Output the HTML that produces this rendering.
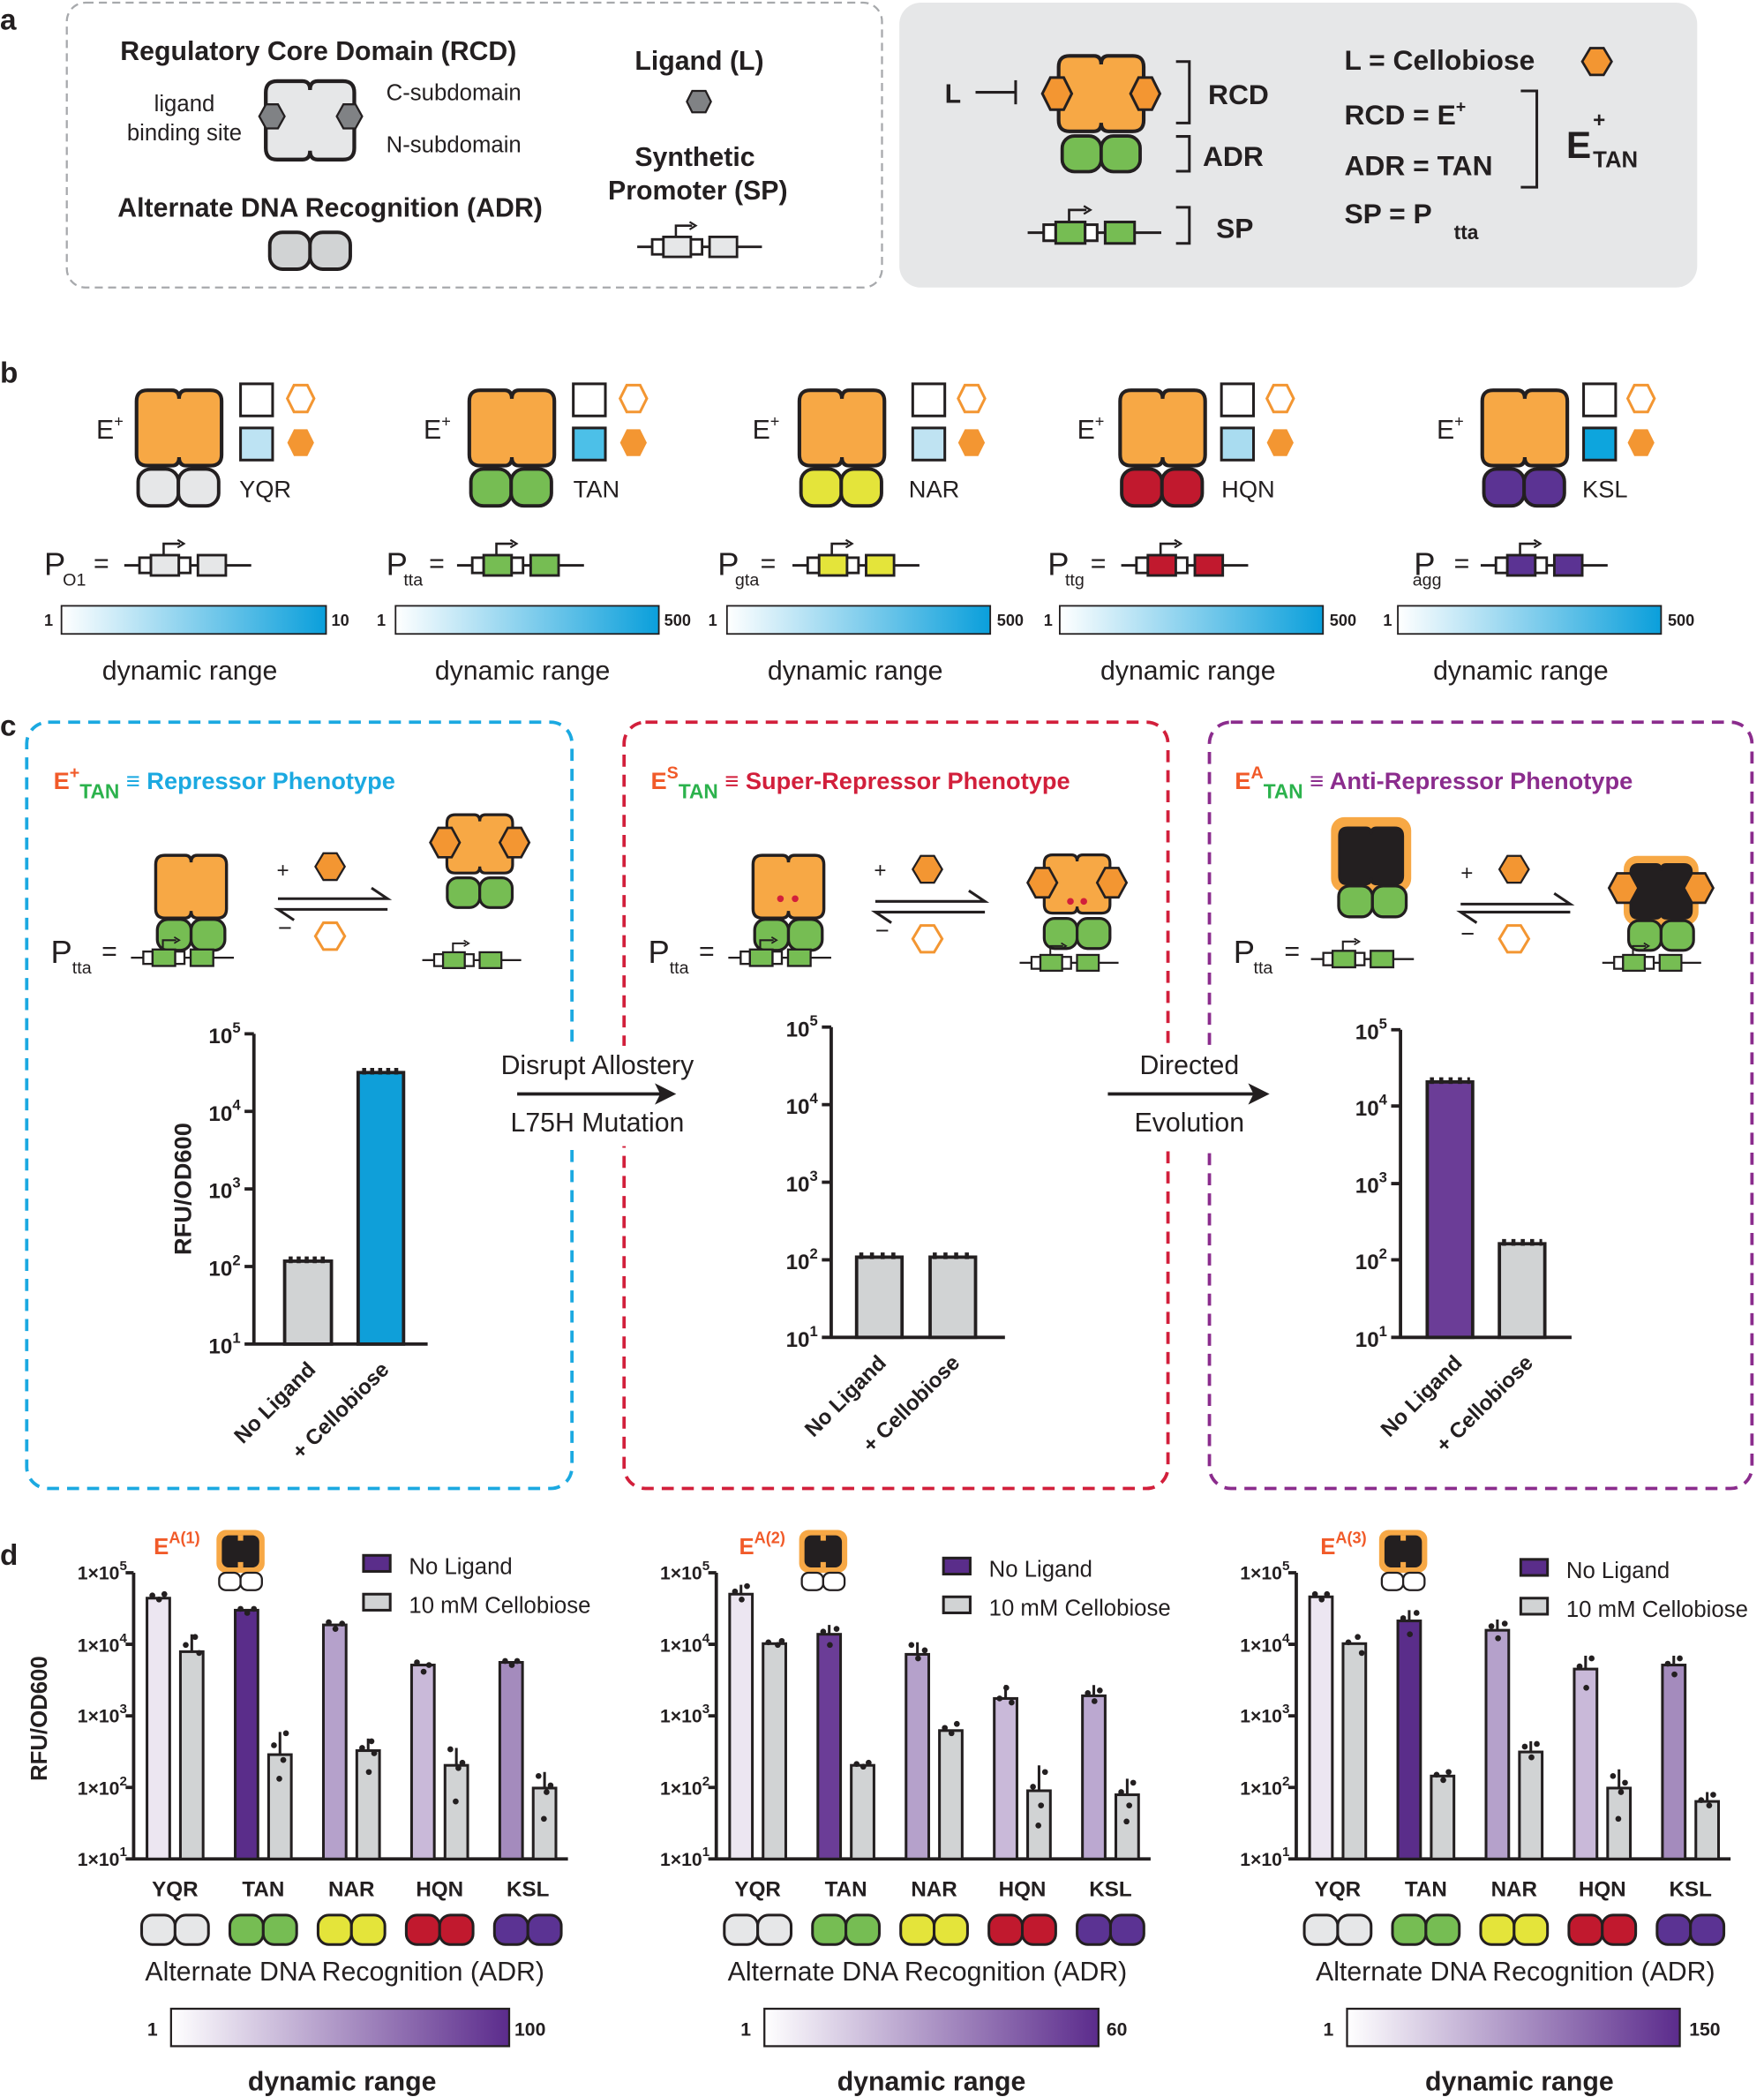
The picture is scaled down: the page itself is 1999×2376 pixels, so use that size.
<!DOCTYPE html>
<html><head><meta charset="utf-8"><style>html,body{margin:0;padding:0;background:#fff}svg{display:block}text{font-family:"Liberation Sans",Arial,sans-serif}</style></head><body>
<svg width="1999" height="2376" viewBox="0 0 1320 1568" preserveAspectRatio="none" xmlns="http://www.w3.org/2000/svg">
<defs>
<symbol id="rcd" viewBox="-2 -2 74 66" overflow="visible"><path d="M9,0 H29 Q35,0 35,7 Q35,0 41,0 H61 Q70,0 70,9 V53 Q70,62 61,62 H41 Q35,62 35,55 Q35,62 29,62 H9 Q0,62 0,53 V9 Q0,0 9,0 Z" stroke="#231f20" stroke-width="3"/></symbol>
<symbol id="adr" viewBox="-2 -2 74 36" overflow="visible"><rect x="0" y="0" width="35" height="32" rx="11" stroke="#231f20" stroke-width="3"/><rect x="35" y="0" width="35" height="32" rx="11" stroke="#231f20" stroke-width="3"/></symbol>
<symbol id="pro" viewBox="0 0 100 30" overflow="visible"><line x1="0" y1="21" x2="100" y2="21" stroke="#231f20" stroke-width="2"/><rect x="12" y="15" width="9" height="12" fill="#fff" stroke="#231f20" stroke-width="2"/><rect x="21" y="13" width="22" height="16" stroke="#231f20" stroke-width="2"/><rect x="43" y="15" width="9" height="12" fill="#fff" stroke="#231f20" stroke-width="2"/><rect x="58" y="13" width="22" height="16" stroke="#231f20" stroke-width="2"/><path d="M31,13 V4 H44" fill="none" stroke="#231f20" stroke-width="1.8"/><path d="M42,1 L47,4 L42,7" fill="none" stroke="#231f20" stroke-width="1.5"/></symbol>
<linearGradient id="gb" x1="0" x2="1"><stop offset="0" stop-color="#fff"/><stop offset="1" stop-color="#0a9fdb"/></linearGradient>
<linearGradient id="gp" x1="0" x2="1"><stop offset="0" stop-color="#fff"/><stop offset="1" stop-color="#5b2b8c"/></linearGradient>
</defs>
<g font-size="20" fill="#231f20">
<!-- panel a -->
<text x="0" y="22" font-weight="bold" font-size="22">a</text>
<rect x="50" y="2" width="610" height="213" rx="14" fill="none" stroke="#a7a9ac" stroke-width="1.5" stroke-dasharray="6,4"/>
<text x="90" y="45" font-weight="bold">Regulatory Core Domain (RCD)</text>
<text x="138" y="83" font-size="17" text-anchor="middle">ligand</text>
<text x="138" y="105" font-size="17" text-anchor="middle">binding site</text>
<use href="#rcd" x="197" y="58" width="70" height="64" fill="#e6e7e8"/>
<polygon points="194,87 199,78 208,78 213,87 208,96 199,96" fill="#808285" stroke="#231f20" stroke-width="1.5"/>
<polygon points="252,87 257,78 266,78 271,87 266,96 257,96" fill="#808285" stroke="#231f20" stroke-width="1.5"/>
<text x="289" y="75" font-size="17">C-subdomain</text>
<text x="289" y="114" font-size="17">N-subdomain</text>
<text x="88" y="162" font-weight="bold">Alternate DNA Recognition (ADR)</text>
<use href="#adr" x="198" y="172" width="68" height="31" fill="#d1d3d4"/>
<text x="475" y="52" font-weight="bold">Ligand (L)</text>
<polygon points="514,76 518,68 528,68 532,76 528,84 518,84" fill="#808285" stroke="#231f20" stroke-width="1.5"/>
<text x="475" y="124" font-weight="bold">Synthetic</text>
<text x="455" y="149" font-weight="bold">Promoter (SP)</text>
<use href="#pro" x="475" y="165" width="97" height="28" fill="#e6e7e8"/>

<rect x="673" y="2" width="597" height="213" rx="16" fill="#e6e7e8"/>
<text x="707" y="77" font-weight="bold">L</text>
<line x1="730" y1="69" x2="760" y2="69" stroke="#231f20" stroke-width="2"/><line x1="760" y1="60" x2="760" y2="78" stroke="#231f20" stroke-width="2"/>
<use href="#rcd" x="790" y="40" width="68" height="60" fill="#f7a845"/>
<polygon points="780,70 786,58 796,58 802,70 796,82 786,82" fill="#f39632" stroke="#231f20" stroke-width="2"/>
<polygon points="846,70 852,58 862,58 868,70 862,82 852,82" fill="#f39632" stroke="#231f20" stroke-width="2"/>
<use href="#adr" x="790" y="100" width="68" height="30" fill="#76bd53"/>
<path d="M880,46 H890 V92 H880 M880,102 H890 V128 H880" fill="none" stroke="#231f20" stroke-width="2"/>
<text x="904" y="78" font-weight="bold" font-size="21">RCD</text>
<text x="900" y="124" font-weight="bold" font-size="21">ADR</text>
<use href="#pro" x="768" y="153" width="102" height="30" fill="#76bd53"/>
<path d="M880,155 H890 V182 H880" fill="none" stroke="#231f20" stroke-width="2"/>
<text x="910" y="178" font-weight="bold" font-size="21">SP</text>
<text x="1006" y="52" font-weight="bold" font-size="21">L = Cellobiose</text>
<polygon points="1184,46 1190,36 1200,36 1206,46 1200,56 1190,56" fill="#f39632" stroke="#231f20" stroke-width="1.8"/>
<text x="1006" y="93" font-weight="bold" font-size="21">RCD = E<tspan font-size="13" dy="-9">+</tspan></text>
<text x="1006" y="131" font-weight="bold" font-size="21">ADR = TAN</text>
<text x="1006" y="167" font-weight="bold" font-size="21">SP =  P</text>
<text x="1088" y="179" font-weight="bold" font-size="15">tta</text>
<path d="M1138,68 H1150 V140 H1138" fill="none" stroke="#231f20" stroke-width="2"/>
<text x="1172" y="118" font-weight="bold" font-size="28">E</text>
<text x="1192" y="95" font-weight="bold" font-size="16">+</text>
<text x="1192" y="125" font-weight="bold" font-size="17">TAN</text>

<!-- panel b -->
<text x="0" y="286" font-weight="bold" font-size="22">b</text>
<g>
<text x="72" y="328">E<tspan font-size="12" dy="-9">+</tspan></text>
<use href="#rcd" x="100" y="290" width="68" height="60" fill="#f7a845"/>
<use href="#adr" x="100" y="349" width="67" height="31" fill="#e6e7e8"/>
<rect x="180" y="287" width="24" height="24" fill="#fff" stroke="#231f20" stroke-width="2"/>
<rect x="180" y="320" width="24" height="24" fill="#bde3f3" stroke="#231f20" stroke-width="2"/>
<polygon points="215,298 220,288 230,288 235,298 230,308 220,308" fill="#fff" stroke="#f39632" stroke-width="2"/>
<polygon points="215,331 220,321 230,321 235,331 230,341 220,341" fill="#f39632"/>
<text x="179" y="372" font-size="18">YQR</text>
<text x="33" y="430" font-size="24">P</text><text x="47" y="438" font-size="13">O1</text><text x="70" y="428">=</text>
<use href="#pro" x="93" y="402" width="95" height="30" fill="#e6e7e8"/>
<rect x="46" y="453" width="198" height="21" fill="url(#gb)" stroke="#231f20" stroke-width="1.2"/>
<text x="33" y="468" font-size="12" font-weight="bold">1</text><text x="248" y="468" font-size="12" font-weight="bold">10</text>
<text x="142" y="508" text-anchor="middle">dynamic range</text>
</g>
<g transform="translate(249,0)">
<text x="68" y="328">E<tspan font-size="12" dy="-9">+</tspan></text>
<use href="#rcd" x="100" y="290" width="68" height="60" fill="#f7a845"/>
<use href="#adr" x="100" y="349" width="67" height="31" fill="#76bd53"/>
<rect x="180" y="287" width="24" height="24" fill="#fff" stroke="#231f20" stroke-width="2"/>
<rect x="180" y="320" width="24" height="24" fill="#4cc0e8" stroke="#231f20" stroke-width="2"/>
<polygon points="215,298 220,288 230,288 235,298 230,308 220,308" fill="#fff" stroke="#f39632" stroke-width="2"/>
<polygon points="215,331 220,321 230,321 235,331 230,341 220,341" fill="#f39632"/>
<text x="180" y="372" font-size="18">TAN</text>
<text x="40" y="430" font-size="24">P</text><text x="53" y="438" font-size="13">tta</text><text x="72" y="428">=</text>
<use href="#pro" x="93" y="402" width="95" height="30" fill="#76bd53"/>
<rect x="47" y="453" width="197" height="21" fill="url(#gb)" stroke="#231f20" stroke-width="1.2"/>
<text x="33" y="468" font-size="12" font-weight="bold">1</text><text x="248" y="468" font-size="12" font-weight="bold">500</text>
<text x="142" y="508" text-anchor="middle">dynamic range</text>
</g>
<g transform="translate(497,0)">
<text x="66" y="328">E<tspan font-size="12" dy="-9">+</tspan></text>
<use href="#rcd" x="99" y="290" width="68" height="60" fill="#f7a845"/>
<use href="#adr" x="99" y="349" width="67" height="31" fill="#e4e43a"/>
<rect x="186" y="287" width="24" height="24" fill="#fff" stroke="#231f20" stroke-width="2"/>
<rect x="186" y="320" width="24" height="24" fill="#bfe3f2" stroke="#231f20" stroke-width="2"/>
<polygon points="220,298 225,288 235,288 240,298 235,308 225,308" fill="#fff" stroke="#f39632" stroke-width="2"/>
<polygon points="220,331 225,321 235,321 240,331 235,341 225,341" fill="#f39632"/>
<text x="183" y="372" font-size="18">NAR</text>
<text x="40" y="430" font-size="24">P</text><text x="53" y="438" font-size="13">gta</text><text x="72" y="428">=</text>
<use href="#pro" x="96" y="402" width="95" height="30" fill="#e4e43a"/>
<rect x="47" y="453" width="197" height="21" fill="url(#gb)" stroke="#231f20" stroke-width="1.2"/>
<text x="33" y="468" font-size="12" font-weight="bold">1</text><text x="249" y="468" font-size="12" font-weight="bold">500</text>
<text x="143" y="508" text-anchor="middle">dynamic range</text>
</g>
<g transform="translate(746,0)">
<text x="60" y="328">E<tspan font-size="12" dy="-9">+</tspan></text>
<use href="#rcd" x="90" y="290" width="68" height="60" fill="#f7a845"/>
<use href="#adr" x="90" y="349" width="67" height="31" fill="#c1192e"/>
<rect x="168" y="287" width="24" height="24" fill="#fff" stroke="#231f20" stroke-width="2"/>
<rect x="168" y="320" width="24" height="24" fill="#a9dcf0" stroke="#231f20" stroke-width="2"/>
<polygon points="202,298 207,288 217,288 222,298 217,308 207,308" fill="#fff" stroke="#f39632" stroke-width="2"/>
<polygon points="202,331 207,321 217,321 222,331 217,341 207,341" fill="#f39632"/>
<text x="168" y="372" font-size="18">HQN</text>
<text x="38" y="430" font-size="24">P</text><text x="51" y="438" font-size="13">ttg</text><text x="70" y="428">=</text>
<use href="#pro" x="93" y="402" width="95" height="30" fill="#c1192e"/>
<rect x="47" y="453" width="197" height="21" fill="url(#gb)" stroke="#231f20" stroke-width="1.2"/>
<text x="35" y="468" font-size="12" font-weight="bold">1</text><text x="249" y="468" font-size="12" font-weight="bold">500</text>
<text x="143" y="508" text-anchor="middle">dynamic range</text>
</g>
<g transform="translate(1000,0)">
<text x="75" y="328">E<tspan font-size="12" dy="-9">+</tspan></text>
<use href="#rcd" x="107" y="290" width="68" height="60" fill="#f7a845"/>
<use href="#adr" x="107" y="349" width="67" height="31" fill="#5b3393"/>
<rect x="185" y="287" width="24" height="24" fill="#fff" stroke="#231f20" stroke-width="2"/>
<rect x="185" y="320" width="24" height="24" fill="#0da5dd" stroke="#231f20" stroke-width="2"/>
<polygon points="218,298 223,288 233,288 238,298 233,308 223,308" fill="#fff" stroke="#f39632" stroke-width="2"/>
<polygon points="218,331 223,321 233,321 238,331 233,341 223,341" fill="#f39632"/>
<text x="184" y="372" font-size="18">KSL</text>
<text x="88" y="428">=</text>
<use href="#pro" x="108" y="402" width="95" height="30" fill="#5b3393"/>
<rect x="46" y="453" width="197" height="21" fill="url(#gb)" stroke="#231f20" stroke-width="1.2"/>
<text x="35" y="468" font-size="12" font-weight="bold">1</text><text x="248" y="468" font-size="12" font-weight="bold">500</text>
<text x="138" y="508" text-anchor="middle">dynamic range</text>
</g>
<text x="1058" y="430" font-size="24">P</text><text x="1057" y="438" font-size="13">agg</text>

<!-- panel c -->
<text x="0" y="550" font-weight="bold" font-size="22">c</text>
<rect x="20" y="540" width="408" height="573" rx="16" fill="none" stroke="#1ba9e1" stroke-width="2.5" stroke-dasharray="9,6"/>
<rect x="467" y="540" width="407" height="573" rx="16" fill="none" stroke="#d21f3b" stroke-width="2.5" stroke-dasharray="9,6"/>
<rect x="905" y="540" width="406" height="573" rx="16" fill="none" stroke="#8b2c8d" stroke-width="2.5" stroke-dasharray="9,6"/>
<g font-weight="bold" font-size="18">
<text x="40" y="590" fill="#f15a29">E<tspan font-size="13" dy="-8">+</tspan><tspan font-size="15" dy="15" fill="#2bb24c">TAN</tspan><tspan dy="-7" fill="#1ba9e1"> ≡ Repressor Phenotype</tspan></text>
<text x="487" y="590" fill="#f15a29">E<tspan font-size="13" dy="-8">S</tspan><tspan font-size="15" dy="15" fill="#2bb24c">TAN</tspan><tspan dy="-7" fill="#d21f3b"> ≡ Super-Repressor Phenotype</tspan></text>
<text x="924" y="590" fill="#f15a29">E<tspan font-size="13" dy="-8">A</tspan><tspan font-size="15" dy="15" fill="#2bb24c">TAN</tspan><tspan dy="-7" fill="#8b2c8d"> ≡ Anti-Repressor Phenotype</tspan></text>
</g>
<g>
<use href="#rcd" x="115" y="638" width="56" height="50" fill="#f7a845"/>
<use href="#adr" x="115" y="686" width="56" height="26" fill="#76bd53"/>
<use href="#pro" x="98" y="699" width="77" height="25" fill="#76bd53"/>
<text x="38" y="720" font-size="24">P</text><text x="54" y="728" font-size="13">tta</text><text x="76" y="718">=</text>
<text x="207" y="656" font-size="16">+</text>
<polygon points="236,648 242,638 252,638 258,648 252,658 242,658" fill="#f39632" stroke="#231f20" stroke-width="1.5"/>
<path d="M208,672 H290 L278,664 M290,680 H208 L220,688" fill="none" stroke="#231f20" stroke-width="2"/>
<text x="208" y="700" font-size="18">−</text>
<polygon points="236,700 242,690 252,690 258,700 252,710 242,710" fill="none" stroke="#f39632" stroke-width="2"/>
<use href="#rcd" x="333" y="607" width="52" height="48" fill="#f7a845"/>
<polygon points="322,630 328,619 338,619 344,630 338,641 328,641" fill="#f39632" stroke="#231f20" stroke-width="1.8"/>
<polygon points="374,630 380,619 390,619 396,630 390,641 380,641" fill="#f39632" stroke="#231f20" stroke-width="1.8"/>
<use href="#adr" x="333" y="655" width="52" height="25" fill="#76bd53"/>
<use href="#pro" x="316" y="700" width="74" height="27" fill="#76bd53"/>
</g>
<g transform="translate(447,0)">
<use href="#rcd" x="115" y="638" width="56" height="50" fill="#f7a845"/>
<circle cx="137" cy="672" r="2.5" fill="#d21f3b"/><circle cx="148" cy="672" r="2.5" fill="#d21f3b"/>
<use href="#adr" x="115" y="686" width="56" height="26" fill="#76bd53"/>
<use href="#pro" x="98" y="699" width="77" height="25" fill="#76bd53"/>
<text x="38" y="720" font-size="24">P</text><text x="54" y="728" font-size="13">tta</text><text x="76" y="718">=</text>
<text x="207" y="656" font-size="16">+</text>
<polygon points="236,650 242,640 252,640 258,650 252,660 242,660" fill="#f39632" stroke="#231f20" stroke-width="1.5"/>
<path d="M208,674 H290 L278,666 M290,682 H208 L220,690" fill="none" stroke="#231f20" stroke-width="2"/>
<text x="208" y="702" font-size="18">−</text>
<polygon points="236,702 242,692 252,692 258,702 252,712 242,712" fill="none" stroke="#f39632" stroke-width="2"/>
<use href="#rcd" x="333" y="637" width="52" height="48" fill="#f7a845"/>
<polygon points="322,660 328,649 338,649 344,660 338,671 328,671" fill="#f39632" stroke="#231f20" stroke-width="1.8"/>
<polygon points="374,660 380,649 390,649 396,660 390,671 380,671" fill="#f39632" stroke="#231f20" stroke-width="1.8"/>
<circle cx="354" cy="674" r="2.5" fill="#d21f3b"/><circle cx="364" cy="674" r="2.5" fill="#d21f3b"/>
<use href="#adr" x="333" y="685" width="52" height="26" fill="#76bd53"/>
<use href="#pro" x="316" y="702" width="74" height="27" fill="#76bd53"/>
</g>
<g transform="translate(883,0)">
<rect x="113" y="611" width="60" height="56" rx="10" fill="#f7a845"/>
<use href="#rcd" x="118" y="616" width="50" height="48" fill="#231f20"/>
<use href="#adr" x="116" y="661" width="56" height="26" fill="#76bd53"/>
<use href="#pro" x="98" y="700" width="77" height="25" fill="#76bd53"/>
<text x="40" y="720" font-size="24">P</text><text x="55" y="728" font-size="13">tta</text><text x="78" y="718">=</text>
<text x="210" y="658" font-size="16">+</text>
<polygon points="239,650 245,640 255,640 261,650 255,660 245,660" fill="#f39632" stroke="#231f20" stroke-width="1.5"/>
<path d="M210,676 H292 L280,668 M292,682 H210 L222,690" fill="none" stroke="#231f20" stroke-width="2"/>
<text x="210" y="704" font-size="18">−</text>
<polygon points="239,702 245,692 255,692 261,702 255,712 245,712" fill="none" stroke="#f39632" stroke-width="2"/>
<rect x="332" y="640" width="56" height="52" rx="10" fill="#f7a845"/>
<use href="#rcd" x="336" y="644" width="48" height="45" fill="#231f20"/>
<polygon points="321,664 327,653 337,653 343,664 337,675 327,675" fill="#f39632" stroke="#231f20" stroke-width="1.8"/>
<polygon points="377,664 383,653 393,653 399,664 393,675 383,675" fill="#f39632" stroke="#231f20" stroke-width="1.8"/>
<use href="#adr" x="334" y="687" width="52" height="25" fill="#76bd53"/>
<use href="#pro" x="316" y="702" width="74" height="27" fill="#76bd53"/>
</g>
<!-- charts c -->
<g font-weight="bold" font-size="16" text-anchor="end">
<g>
<path d="M190,773 V1005 M183,773 H190 M183,831 H190 M183,889 H190 M183,947 H190 M183,1005 H190 M190,1005 H320" stroke="#231f20" stroke-width="2.5" fill="none"/>
<text x="180" y="780">10<tspan font-size="11" dy="-8">5</tspan></text>
<text x="180" y="838">10<tspan font-size="11" dy="-8">4</tspan></text>
<text x="180" y="896">10<tspan font-size="11" dy="-8">3</tspan></text>
<text x="180" y="954">10<tspan font-size="11" dy="-8">2</tspan></text>
<text x="180" y="1012">10<tspan font-size="11" dy="-8">1</tspan></text>
<rect x="213" y="943" width="35" height="62" fill="#d1d3d4" stroke="#231f20" stroke-width="2.5"/>
<rect x="268" y="802" width="34" height="203" fill="#0f9fd9" stroke="#231f20" stroke-width="2.5"/>
<path d="M216,942 H246 M271,801 H300" stroke="#231f20" stroke-width="5" stroke-dasharray="3,3"/>
<text transform="translate(237,1025) rotate(-45)">No Ligand</text>
<text transform="translate(292,1025) rotate(-45)">+ Cellobiose</text>
<text transform="translate(143,889) rotate(-90)" text-anchor="middle" font-size="18">RFU/OD600</text>
</g>
<g>
<path d="M622,768 V1000 M615,768 H622 M615,826 H622 M615,884 H622 M615,942 H622 M615,1000 H622 M622,1000 H752" stroke="#231f20" stroke-width="2.5" fill="none"/>
<text x="612" y="775">10<tspan font-size="11" dy="-8">5</tspan></text>
<text x="612" y="833">10<tspan font-size="11" dy="-8">4</tspan></text>
<text x="612" y="891">10<tspan font-size="11" dy="-8">3</tspan></text>
<text x="612" y="949">10<tspan font-size="11" dy="-8">2</tspan></text>
<text x="612" y="1007">10<tspan font-size="11" dy="-8">1</tspan></text>
<rect x="641" y="940" width="34" height="60" fill="#d1d3d4" stroke="#231f20" stroke-width="2.5"/>
<rect x="696" y="940" width="34" height="60" fill="#d1d3d4" stroke="#231f20" stroke-width="2.5"/>
<path d="M643,939 H673 M698,939 H728" stroke="#231f20" stroke-width="5" stroke-dasharray="3,5"/>
<text transform="translate(664,1020) rotate(-45)">No Ligand</text>
<text transform="translate(719,1020) rotate(-45)">+ Cellobiose</text>
</g>
<g>
<path d="M1048,770 V1000 M1041,770 H1048 M1041,827 H1048 M1041,885 H1048 M1041,942 H1048 M1041,1000 H1048 M1048,1000 H1176" stroke="#231f20" stroke-width="2.5" fill="none"/>
<text x="1038" y="777">10<tspan font-size="11" dy="-8">5</tspan></text>
<text x="1038" y="834">10<tspan font-size="11" dy="-8">4</tspan></text>
<text x="1038" y="892">10<tspan font-size="11" dy="-8">3</tspan></text>
<text x="1038" y="949">10<tspan font-size="11" dy="-8">2</tspan></text>
<text x="1038" y="1007">10<tspan font-size="11" dy="-8">1</tspan></text>
<rect x="1068" y="809" width="34" height="191" fill="#6b3d97" stroke="#231f20" stroke-width="2.5"/>
<rect x="1122" y="930" width="34" height="70" fill="#d1d3d4" stroke="#231f20" stroke-width="2.5"/>
<path d="M1070,808 H1100 M1124,929 H1154" stroke="#231f20" stroke-width="5" stroke-dasharray="3,4"/>
<text transform="translate(1095,1020) rotate(-45)">No Ligand</text>
<text transform="translate(1148,1020) rotate(-45)">+ Cellobiose</text>
</g>
</g>
<rect x="365" y="782" width="165" height="75" fill="#fff"/>
<rect x="820" y="782" width="140" height="75" fill="#fff"/>
<text x="447" y="803" text-anchor="middle">Disrupt Allostery</text>
<path d="M387,818 H495" stroke="#231f20" stroke-width="2.5"/><polygon points="506,818 490,810 494,818 490,826" fill="#231f20"/>
<text x="447" y="846" text-anchor="middle">L75H Mutation</text>
<text x="890" y="803" text-anchor="middle">Directed</text>
<path d="M829,818 H938" stroke="#231f20" stroke-width="2.5"/><polygon points="950,818 934,810 938,818 934,826" fill="#231f20"/>
<text x="890" y="846" text-anchor="middle">Evolution</text>

<!-- panel d -->
<text x="0" y="1170" font-weight="bold" font-size="22">d</text>
<text transform="translate(35,1285) rotate(-90)" text-anchor="middle" font-weight="bold" font-size="17">RFU/OD600</text>

<!-- chart d1 -->
<g>
<path d="M100,1176 V1390 H425 M94,1176 H100 M94,1229.5 H100 M94,1283 H100 M94,1336.5 H100 M94,1390 H100" stroke="#231f20" stroke-width="2.5" fill="none"/>
<g font-weight="bold" font-size="14" text-anchor="end">
<text x="95" y="1181">1×10<tspan font-size="10" dy="-7">5</tspan></text>
<text x="95" y="1235">1×10<tspan font-size="10" dy="-7">4</tspan></text>
<text x="95" y="1288">1×10<tspan font-size="10" dy="-7">3</tspan></text>
<text x="95" y="1342">1×10<tspan font-size="10" dy="-7">2</tspan></text>
<text x="95" y="1395">1×10<tspan font-size="10" dy="-7">1</tspan></text>
</g>
<g stroke="#231f20" stroke-width="2">
<rect x="110" y="1195" width="17" height="195" fill="#ece6f1"/><rect x="135" y="1235" width="17" height="155" fill="#d1d3d4"/>
<rect x="176" y="1204" width="17" height="186" fill="#5a2d8a"/><rect x="201" y="1312" width="17" height="78" fill="#d1d3d4"/>
<rect x="242" y="1215" width="17" height="175" fill="#b5a1cb"/><rect x="267" y="1309" width="17" height="81" fill="#d1d3d4"/>
<rect x="308" y="1245" width="17" height="145" fill="#c9b9d9"/><rect x="333" y="1320" width="17" height="70" fill="#d1d3d4"/>
<rect x="374" y="1243" width="17" height="147" fill="#a48bbd"/><rect x="399" y="1337" width="17" height="53" fill="#d1d3d4"/>
<path d="M143.5,1222 V1235 M209.5,1295 V1312 M275.5,1300 V1309 M341.5,1307 V1320 M407.5,1325 V1337" fill="none"/>
</g>
<g fill="#231f20">
<circle cx="114" cy="1193" r="2.2"/><circle cx="119" cy="1196" r="2.2"/><circle cx="123" cy="1192" r="2.2"/>
<circle cx="139" cy="1230" r="2.2"/><circle cx="146" cy="1224" r="2.2"/><circle cx="149" cy="1236" r="2.2"/>
<circle cx="180" cy="1203" r="2.2"/><circle cx="185" cy="1206" r="2.2"/><circle cx="190" cy="1203" r="2.2"/>
<circle cx="205" cy="1305" r="2.2"/><circle cx="212" cy="1316" r="2.2"/><circle cx="209" cy="1330" r="2.2"/><circle cx="214" cy="1296" r="2.2"/>
<circle cx="246" cy="1213" r="2.2"/><circle cx="251" cy="1218" r="2.2"/><circle cx="256" cy="1214" r="2.2"/>
<circle cx="271" cy="1307" r="2.2"/><circle cx="278" cy="1302" r="2.2"/><circle cx="276" cy="1325" r="2.2"/><circle cx="280" cy="1311" r="2.2"/>
<circle cx="312" cy="1243" r="2.2"/><circle cx="317" cy="1250" r="2.2"/><circle cx="321" cy="1245" r="2.2"/>
<circle cx="337" cy="1308" r="2.2"/><circle cx="343" cy="1322" r="2.2"/><circle cx="341" cy="1347" r="2.2"/><circle cx="346" cy="1318" r="2.2"/>
<circle cx="378" cy="1242" r="2.2"/><circle cx="383" cy="1245" r="2.2"/><circle cx="387" cy="1242" r="2.2"/>
<circle cx="403" cy="1328" r="2.2"/><circle cx="409" cy="1340" r="2.2"/><circle cx="407" cy="1360" r="2.2"/><circle cx="412" cy="1335" r="2.2"/>
</g>
</g>
<!-- chart d2 -->
<g transform="translate(436,0)">
<path d="M100,1176 V1390 H425 M94,1176 H100 M94,1229.5 H100 M94,1283 H100 M94,1336.5 H100 M94,1390 H100" stroke="#231f20" stroke-width="2.5" fill="none"/>
<g font-weight="bold" font-size="14" text-anchor="end">
<text x="95" y="1181">1×10<tspan font-size="10" dy="-7">5</tspan></text>
<text x="95" y="1235">1×10<tspan font-size="10" dy="-7">4</tspan></text>
<text x="95" y="1288">1×10<tspan font-size="10" dy="-7">3</tspan></text>
<text x="95" y="1342">1×10<tspan font-size="10" dy="-7">2</tspan></text>
<text x="95" y="1395">1×10<tspan font-size="10" dy="-7">1</tspan></text>
</g>
<g stroke="#231f20" stroke-width="2">
<rect x="110" y="1192" width="17" height="198" fill="#ece6f1"/><rect x="135" y="1229" width="17" height="161" fill="#d1d3d4"/>
<rect x="176" y="1222" width="17" height="168" fill="#6b3d97"/><rect x="201" y="1320" width="17" height="70" fill="#d1d3d4"/>
<rect x="242" y="1237" width="17" height="153" fill="#b5a1cb"/><rect x="267" y="1294" width="17" height="96" fill="#d1d3d4"/>
<rect x="308" y="1270" width="17" height="120" fill="#c9b9d9"/><rect x="333" y="1339" width="17" height="51" fill="#d1d3d4"/>
<rect x="374" y="1268" width="17" height="122" fill="#bba8d0"/><rect x="399" y="1342" width="17" height="48" fill="#d1d3d4"/>
<path d="M118.5,1185 V1192 M184.5,1215 V1222 M250.5,1228 V1237 M316.5,1260 V1270 M382.5,1260 V1268 M341.5,1320 V1339 M407.5,1330 V1342" fill="none"/>
</g>
<g fill="#231f20">
<circle cx="114" cy="1190" r="2.2"/><circle cx="119" cy="1196" r="2.2"/><circle cx="123" cy="1186" r="2.2"/>
<circle cx="139" cy="1228" r="2.2"/><circle cx="146" cy="1230" r="2.2"/><circle cx="149" cy="1227" r="2.2"/>
<circle cx="180" cy="1220" r="2.2"/><circle cx="185" cy="1230" r="2.2"/><circle cx="190" cy="1218" r="2.2"/>
<circle cx="205" cy="1319" r="2.2"/><circle cx="210" cy="1321" r="2.2"/><circle cx="214" cy="1318" r="2.2"/>
<circle cx="246" cy="1230" r="2.2"/><circle cx="251" cy="1240" r="2.2"/><circle cx="256" cy="1234" r="2.2"/>
<circle cx="271" cy="1292" r="2.2"/><circle cx="276" cy="1296" r="2.2"/><circle cx="280" cy="1289" r="2.2"/>
<circle cx="312" cy="1270" r="2.2"/><circle cx="317" cy="1262" r="2.2"/><circle cx="321" cy="1273" r="2.2"/>
<circle cx="337" cy="1336" r="2.2"/><circle cx="343" cy="1350" r="2.2"/><circle cx="341" cy="1365" r="2.2"/><circle cx="346" cy="1325" r="2.2"/>
<circle cx="378" cy="1266" r="2.2"/><circle cx="383" cy="1272" r="2.2"/><circle cx="387" cy="1264" r="2.2"/>
<circle cx="403" cy="1340" r="2.2"/><circle cx="409" cy="1350" r="2.2"/><circle cx="407" cy="1362" r="2.2"/><circle cx="412" cy="1333" r="2.2"/>
</g>
</g>
<!-- chart d3 -->
<g transform="translate(870,0)">
<path d="M100,1176 V1390 H425 M94,1176 H100 M94,1229.5 H100 M94,1283 H100 M94,1336.5 H100 M94,1390 H100" stroke="#231f20" stroke-width="2.5" fill="none"/>
<g font-weight="bold" font-size="14" text-anchor="end">
<text x="95" y="1181">1×10<tspan font-size="10" dy="-7">5</tspan></text>
<text x="95" y="1235">1×10<tspan font-size="10" dy="-7">4</tspan></text>
<text x="95" y="1288">1×10<tspan font-size="10" dy="-7">3</tspan></text>
<text x="95" y="1342">1×10<tspan font-size="10" dy="-7">2</tspan></text>
<text x="95" y="1395">1×10<tspan font-size="10" dy="-7">1</tspan></text>
</g>
<g stroke="#231f20" stroke-width="2">
<rect x="110" y="1194" width="17" height="196" fill="#ece6f1"/><rect x="135" y="1229" width="17" height="161" fill="#d1d3d4"/>
<rect x="176" y="1212" width="17" height="178" fill="#5a2d8a"/><rect x="201" y="1328" width="17" height="62" fill="#d1d3d4"/>
<rect x="242" y="1219" width="17" height="171" fill="#b5a1cb"/><rect x="267" y="1310" width="17" height="80" fill="#d1d3d4"/>
<rect x="308" y="1248" width="17" height="142" fill="#c9b9d9"/><rect x="333" y="1337" width="17" height="53" fill="#d1d3d4"/>
<rect x="374" y="1245" width="17" height="145" fill="#a48bbd"/><rect x="399" y="1347" width="17" height="43" fill="#d1d3d4"/>
<path d="M184.5,1204 V1212 M250.5,1211 V1219 M316.5,1238 V1248 M382.5,1238 V1245 M341.5,1323 V1337 M407.5,1340 V1347 M275.5,1302 V1310" fill="none"/>
</g>
<g fill="#231f20">
<circle cx="114" cy="1192" r="2.2"/><circle cx="119" cy="1196" r="2.2"/><circle cx="123" cy="1192" r="2.2"/>
<circle cx="139" cy="1228" r="2.2"/><circle cx="146" cy="1224" r="2.2"/><circle cx="149" cy="1236" r="2.2"/>
<circle cx="180" cy="1210" r="2.2"/><circle cx="185" cy="1222" r="2.2"/><circle cx="190" cy="1206" r="2.2"/>
<circle cx="205" cy="1327" r="2.2"/><circle cx="210" cy="1331" r="2.2"/><circle cx="214" cy="1325" r="2.2"/>
<circle cx="246" cy="1216" r="2.2"/><circle cx="251" cy="1225" r="2.2"/><circle cx="256" cy="1214" r="2.2"/>
<circle cx="271" cy="1306" r="2.2"/><circle cx="276" cy="1314" r="2.2"/><circle cx="280" cy="1304" r="2.2"/>
<circle cx="312" cy="1246" r="2.2"/><circle cx="317" cy="1262" r="2.2"/><circle cx="321" cy="1240" r="2.2"/>
<circle cx="337" cy="1328" r="2.2"/><circle cx="343" cy="1340" r="2.2"/><circle cx="341" cy="1360" r="2.2"/><circle cx="346" cy="1333" r="2.2"/>
<circle cx="378" cy="1244" r="2.2"/><circle cx="383" cy="1252" r="2.2"/><circle cx="387" cy="1240" r="2.2"/>
<circle cx="403" cy="1346" r="2.2"/><circle cx="409" cy="1350" r="2.2"/><circle cx="412" cy="1342" r="2.2"/>
</g>
</g>

<!-- d common parts (x3) -->
<g id="dc1">
<g font-weight="bold" font-size="16" text-anchor="middle">
<text x="131" y="1418">YQR</text><text x="197" y="1418">TAN</text><text x="263" y="1418">NAR</text><text x="329" y="1418">HQN</text><text x="395" y="1418">KSL</text>
</g>
<g stroke="#231f20" stroke-width="2">
<rect x="106" y="1432" width="25" height="22" rx="8" fill="#e6e7e8"/><rect x="131" y="1432" width="25" height="22" rx="8" fill="#e6e7e8"/>
<rect x="172" y="1432" width="25" height="22" rx="8" fill="#76bd53"/><rect x="197" y="1432" width="25" height="22" rx="8" fill="#76bd53"/>
<rect x="238" y="1432" width="25" height="22" rx="8" fill="#e4e43a"/><rect x="263" y="1432" width="25" height="22" rx="8" fill="#e4e43a"/>
<rect x="304" y="1432" width="25" height="22" rx="8" fill="#c1192e"/><rect x="329" y="1432" width="25" height="22" rx="8" fill="#c1192e"/>
<rect x="370" y="1432" width="25" height="22" rx="8" fill="#5b3393"/><rect x="395" y="1432" width="25" height="22" rx="8" fill="#5b3393"/>
</g>
<text x="258" y="1481" text-anchor="middle" font-size="20">Alternate DNA Recognition (ADR)</text>
<rect x="128" y="1502" width="253" height="28" fill="url(#gp)" stroke="#231f20" stroke-width="1.5"/>
<text x="118" y="1522" text-anchor="end" font-weight="bold" font-size="14">1</text>
<text x="256" y="1563" text-anchor="middle" font-weight="bold" font-size="20">dynamic range</text>
<rect x="272" y="1163" width="20" height="12" fill="#5a2d8a" stroke="#231f20" stroke-width="2"/><text x="306" y="1177" font-size="17">No Ligand</text>
<rect x="272" y="1192" width="20" height="12" fill="#d1d3d4" stroke="#231f20" stroke-width="2"/><text x="306" y="1206" font-size="17">10 mM Cellobiose</text>
<rect x="162" y="1144" width="36" height="32" rx="7" fill="#f7a845"/><rect x="166" y="1148" width="28" height="24" rx="5" fill="#231f20"/><rect x="178" y="1148" width="4" height="4" fill="#f7a845"/><rect x="178" y="1168" width="4" height="4" fill="#f7a845"/>
<rect x="164" y="1176" width="16" height="13" rx="5" fill="#fff" stroke="#231f20" stroke-width="1.5"/><rect x="180" y="1176" width="16" height="13" rx="5" fill="#fff" stroke="#231f20" stroke-width="1.5"/>
</g>
<g transform="translate(436,0)">
<g font-weight="bold" font-size="16" text-anchor="middle">
<text x="131" y="1418">YQR</text><text x="197" y="1418">TAN</text><text x="263" y="1418">NAR</text><text x="329" y="1418">HQN</text><text x="395" y="1418">KSL</text>
</g>
<g stroke="#231f20" stroke-width="2">
<rect x="106" y="1432" width="25" height="22" rx="8" fill="#e6e7e8"/><rect x="131" y="1432" width="25" height="22" rx="8" fill="#e6e7e8"/>
<rect x="172" y="1432" width="25" height="22" rx="8" fill="#76bd53"/><rect x="197" y="1432" width="25" height="22" rx="8" fill="#76bd53"/>
<rect x="238" y="1432" width="25" height="22" rx="8" fill="#e4e43a"/><rect x="263" y="1432" width="25" height="22" rx="8" fill="#e4e43a"/>
<rect x="304" y="1432" width="25" height="22" rx="8" fill="#c1192e"/><rect x="329" y="1432" width="25" height="22" rx="8" fill="#c1192e"/>
<rect x="370" y="1432" width="25" height="22" rx="8" fill="#5b3393"/><rect x="395" y="1432" width="25" height="22" rx="8" fill="#5b3393"/>
</g>
<text x="258" y="1481" text-anchor="middle" font-size="20">Alternate DNA Recognition (ADR)</text>
<rect x="136" y="1502" width="250" height="28" fill="url(#gp)" stroke="#231f20" stroke-width="1.5"/>
<text x="126" y="1522" text-anchor="end" font-weight="bold" font-size="14">1</text>
<text x="261" y="1563" text-anchor="middle" font-weight="bold" font-size="20">dynamic range</text>
<rect x="270" y="1165" width="20" height="12" fill="#5a2d8a" stroke="#231f20" stroke-width="2"/><text x="304" y="1179" font-size="17">No Ligand</text>
<rect x="270" y="1194" width="20" height="12" fill="#d1d3d4" stroke="#231f20" stroke-width="2"/><text x="304" y="1208" font-size="17">10 mM Cellobiose</text>
<rect x="162" y="1144" width="36" height="32" rx="7" fill="#f7a845"/><rect x="166" y="1148" width="28" height="24" rx="5" fill="#231f20"/><rect x="178" y="1148" width="4" height="4" fill="#f7a845"/><rect x="178" y="1168" width="4" height="4" fill="#f7a845"/>
<rect x="164" y="1176" width="16" height="13" rx="5" fill="#fff" stroke="#231f20" stroke-width="1.5"/><rect x="180" y="1176" width="16" height="13" rx="5" fill="#fff" stroke="#231f20" stroke-width="1.5"/>
</g>
<g transform="translate(870,0)">
<g font-weight="bold" font-size="16" text-anchor="middle">
<text x="131" y="1418">YQR</text><text x="197" y="1418">TAN</text><text x="263" y="1418">NAR</text><text x="329" y="1418">HQN</text><text x="395" y="1418">KSL</text>
</g>
<g stroke="#231f20" stroke-width="2">
<rect x="106" y="1432" width="25" height="22" rx="8" fill="#e6e7e8"/><rect x="131" y="1432" width="25" height="22" rx="8" fill="#e6e7e8"/>
<rect x="172" y="1432" width="25" height="22" rx="8" fill="#76bd53"/><rect x="197" y="1432" width="25" height="22" rx="8" fill="#76bd53"/>
<rect x="238" y="1432" width="25" height="22" rx="8" fill="#e4e43a"/><rect x="263" y="1432" width="25" height="22" rx="8" fill="#e4e43a"/>
<rect x="304" y="1432" width="25" height="22" rx="8" fill="#c1192e"/><rect x="329" y="1432" width="25" height="22" rx="8" fill="#c1192e"/>
<rect x="370" y="1432" width="25" height="22" rx="8" fill="#5b3393"/><rect x="395" y="1432" width="25" height="22" rx="8" fill="#5b3393"/>
</g>
<text x="264" y="1481" text-anchor="middle" font-size="20">Alternate DNA Recognition (ADR)</text>
<rect x="138" y="1502" width="249" height="28" fill="url(#gp)" stroke="#231f20" stroke-width="1.5"/>
<text x="128" y="1522" text-anchor="end" font-weight="bold" font-size="14">1</text>
<text x="267" y="1563" text-anchor="middle" font-weight="bold" font-size="20">dynamic range</text>
<rect x="268" y="1166" width="20" height="12" fill="#5a2d8a" stroke="#231f20" stroke-width="2"/><text x="302" y="1180" font-size="17">No Ligand</text>
<rect x="268" y="1195" width="20" height="12" fill="#d1d3d4" stroke="#231f20" stroke-width="2"/><text x="302" y="1209" font-size="17">10 mM Cellobiose</text>
<rect x="162" y="1144" width="36" height="32" rx="7" fill="#f7a845"/><rect x="166" y="1148" width="28" height="24" rx="5" fill="#231f20"/><rect x="178" y="1148" width="4" height="4" fill="#f7a845"/><rect x="178" y="1168" width="4" height="4" fill="#f7a845"/>
<rect x="164" y="1176" width="16" height="13" rx="5" fill="#fff" stroke="#231f20" stroke-width="1.5"/><rect x="180" y="1176" width="16" height="13" rx="5" fill="#fff" stroke="#231f20" stroke-width="1.5"/>
</g>
<g font-weight="bold" font-size="14">
<text x="385" y="1522">100</text><text x="828" y="1522">60</text><text x="1264" y="1522">150</text>
</g>
<g font-weight="bold" font-size="17" fill="#f15a29">
<text x="115" y="1162">E<tspan font-size="12" dy="-8">A(1)</tspan></text>
<text x="553" y="1162">E<tspan font-size="12" dy="-8">A(2)</tspan></text>
<text x="988" y="1162">E<tspan font-size="12" dy="-8">A(3)</tspan></text>
</g>
</g>
</svg>
</body></html>
